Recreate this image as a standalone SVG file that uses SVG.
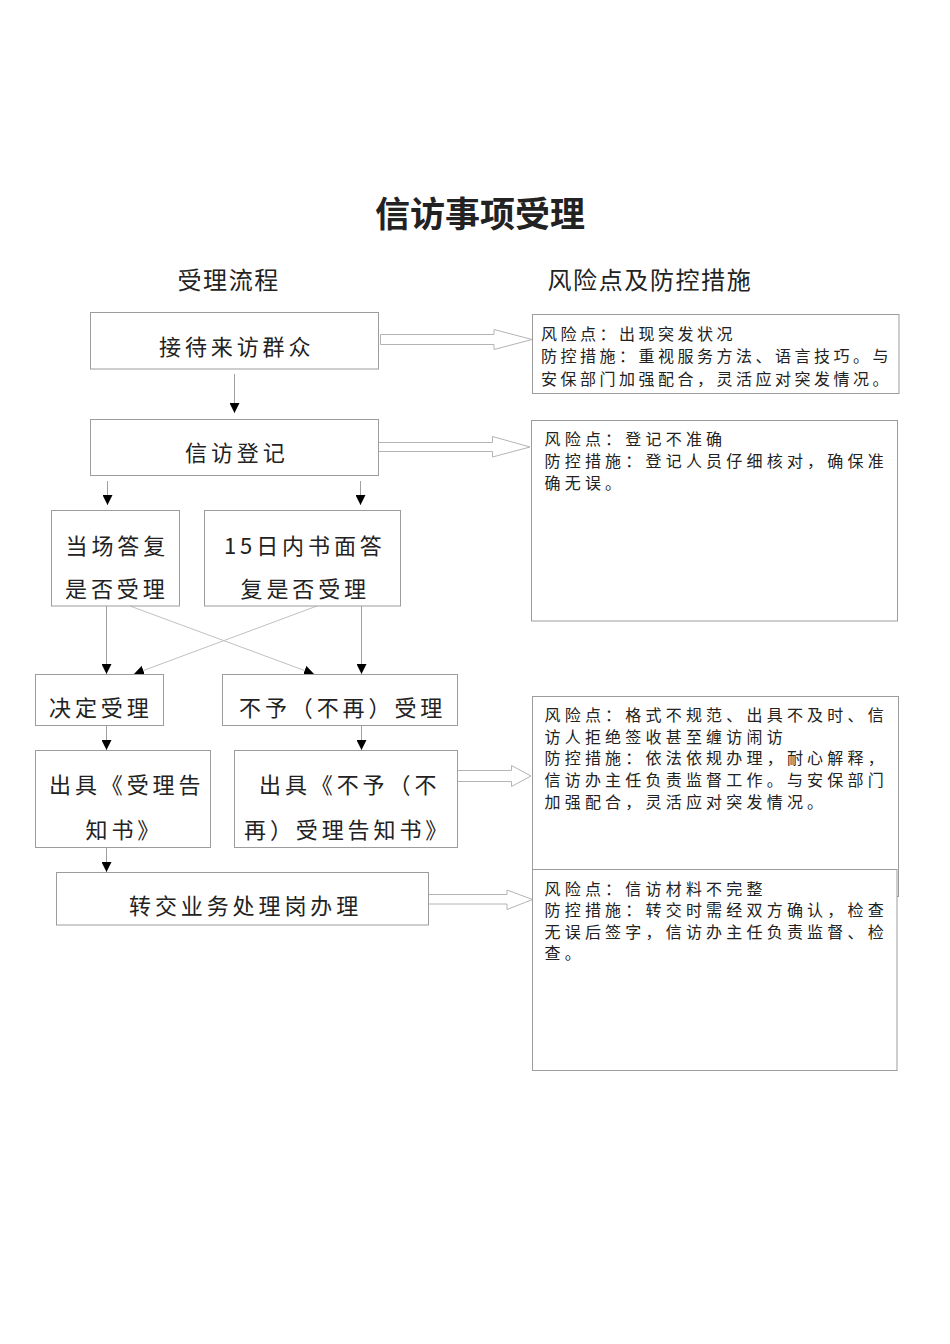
<svg xmlns="http://www.w3.org/2000/svg" width="950" height="1344" viewBox="0 0 950 1344">
<defs>
<style>
.box{fill:#fff;stroke:#9c9c9c;stroke-width:1}
.t{font-family:'Noto Sans CJK SC','Noto Sans',sans-serif;fill:#222}
.ft{font-size:22px;letter-spacing:3.9px}
.rt{font-size:16px;letter-spacing:4.2px}
.rt1{font-size:16px;letter-spacing:3.5px}
.ln{stroke:#a0a0a0;stroke-width:1;fill:none}
.dg{stroke:#c0c0c0;stroke-width:1;fill:none}
.ha{fill:#fff;stroke:#b4b4b4;stroke-width:1}
</style>
<marker id="ah" viewBox="0 0 10 10" refX="10" refY="5" markerWidth="10" markerHeight="10" markerUnits="userSpaceOnUse" orient="auto">
<path d="M0,0 L10,5 L0,10 z" fill="#000"/>
</marker>
</defs>
<rect width="950" height="1344" fill="#fff"/>

<text class="t" x="375" y="226.5" font-size="35" font-weight="bold" fill="#000">信访事项受理</text>
<text class="t" x="177.5" y="289" font-size="24" letter-spacing="1.6">受理流程</text>
<text class="t" x="547.5" y="289" font-size="24" letter-spacing="1.6">风险点及防控措施</text>

<g id="connectors">
<line class="ln" x1="234.5" y1="374" x2="234.5" y2="413" marker-end="url(#ah)"/>
<line class="ln" x1="107.5" y1="481" x2="107.5" y2="505" marker-end="url(#ah)"/>
<line class="ln" x1="360.5" y1="481" x2="360.5" y2="505" marker-end="url(#ah)"/>
<line class="ln" x1="106.5" y1="606" x2="106.5" y2="674" marker-end="url(#ah)"/>
<line class="ln" x1="361.5" y1="606" x2="361.5" y2="674" marker-end="url(#ah)"/>
<line class="dg" x1="130" y1="606" x2="314" y2="674" marker-end="url(#ah)"/>
<line class="dg" x1="317" y1="606" x2="134" y2="674" marker-end="url(#ah)"/>
<line class="ln" x1="106.5" y1="725.5" x2="106.5" y2="750" marker-end="url(#ah)"/>
<line class="ln" x1="361.5" y1="725.5" x2="361.5" y2="750" marker-end="url(#ah)"/>
<line class="ln" x1="106.5" y1="847.5" x2="106.5" y2="872" marker-end="url(#ah)"/>
<polygon class="ha" points="380.5,334.5 494,334.5 494,329.5 532,339.5 494,349.5 494,344.5 380.5,344.5"/>
<polygon class="ha" points="378.5,442.5 492.5,442.5 492.5,436.5 530,447 492.5,457 492.5,451.5 378.5,451.5"/>
<polygon class="ha" points="457.5,770.5 511.5,770.5 511.5,765.5 531,776 511.5,786.5 511.5,781.5 457.5,781.5"/>
<polygon class="ha" points="428.5,894.5 507,894.5 507,890 532.5,899.5 507,909.5 507,904 428.5,904"/>
</g>

<g id="n1"><rect class="box" x="90.5" y="312.5" width="288" height="56.5"/><text class="t ft" x="159" y="355">接待来访群众</text></g>
<g id="n2"><rect class="box" x="90.5" y="419.5" width="288" height="56"/><text class="t ft" x="185" y="461">信访登记</text></g>
<g id="n3"><rect class="box" x="51.5" y="510.5" width="128" height="95.5"/><text class="t ft" x="65.5" y="553.5">当场答复</text><text class="t ft" x="65" y="596.5">是否受理</text></g>
<g id="n4"><rect class="box" x="204.5" y="510.5" width="196" height="95.5"/><text class="t ft" x="224" y="553.5">15日内书面答</text><text class="t ft" x="240.5" y="596.5">复是否受理</text></g>
<g id="n5"><rect class="box" x="35.5" y="674.5" width="128" height="51"/><text class="t ft" x="49" y="716">决定受理</text></g>
<g id="n6"><rect class="box" x="222.5" y="674.5" width="235" height="51"/><text class="t ft" x="239" y="716">不予（不再）受理</text></g>
<g id="n7"><rect class="box" x="35.5" y="750.5" width="175" height="97"/><text class="t ft" x="49" y="792.5">出具《受理告</text><text class="t ft" x="85.5" y="837.5">知书》</text></g>
<g id="n8"><rect class="box" x="234.5" y="750.5" width="223" height="97"/><text class="t ft" x="259" y="792.5">出具《不予（不</text><text class="t ft" x="244" y="837.5">再）受理告知书》</text></g>
<g id="n9"><rect class="box" x="56.5" y="872.5" width="372" height="52.5"/><text class="t ft" x="129" y="913.5">转交业务处理岗办理</text></g>

<g id="r1"><rect class="box" x="532.5" y="314.5" width="366.5" height="79"/>
<text class="t rt1" x="541" y="339.5">风险点：出现突发状况</text>
<text class="t rt1" x="541" y="362">防控措施：重视服务方法、语言技巧。与</text>
<text class="t rt1" x="541" y="384.5">安保部门加强配合，灵活应对突发情况。</text></g>
<g id="r2"><rect class="box" x="531.5" y="420.5" width="366" height="200.5"/>
<text class="t rt" x="544.5" y="444.5">风险点：登记不准确</text>
<text class="t rt" x="544.5" y="466.5">防控措施：登记人员仔细核对，确保准</text>
<text class="t rt" x="544.5" y="488.5">确无误。</text></g>
<g id="r3"><rect class="box" x="532.5" y="696.5" width="366" height="200"/>
<text class="t rt" x="544.5" y="721">风险点：格式不规范、出具不及时、信</text>
<text class="t rt" x="544.5" y="742.7">访人拒绝签收甚至缠访闹访</text>
<text class="t rt" x="544.5" y="764.4">防控措施：依法依规办理，耐心解释，</text>
<text class="t rt" x="544.5" y="786.1">信访办主任负责监督工作。与安保部门</text>
<text class="t rt" x="544.5" y="807.8">加强配合，灵活应对突发情况。</text></g>
<g id="r4"><rect class="box" x="532.5" y="869.5" width="364.5" height="201"/>
<text class="t rt" x="544.5" y="894.5">风险点：信访材料不完整</text>
<text class="t rt" x="544.5" y="916">防控措施：转交时需经双方确认，检查</text>
<text class="t rt" x="544.5" y="937.7">无误后签字，信访办主任负责监督、检</text>
<text class="t rt" x="544.5" y="959.2">查。</text></g>
</svg>
